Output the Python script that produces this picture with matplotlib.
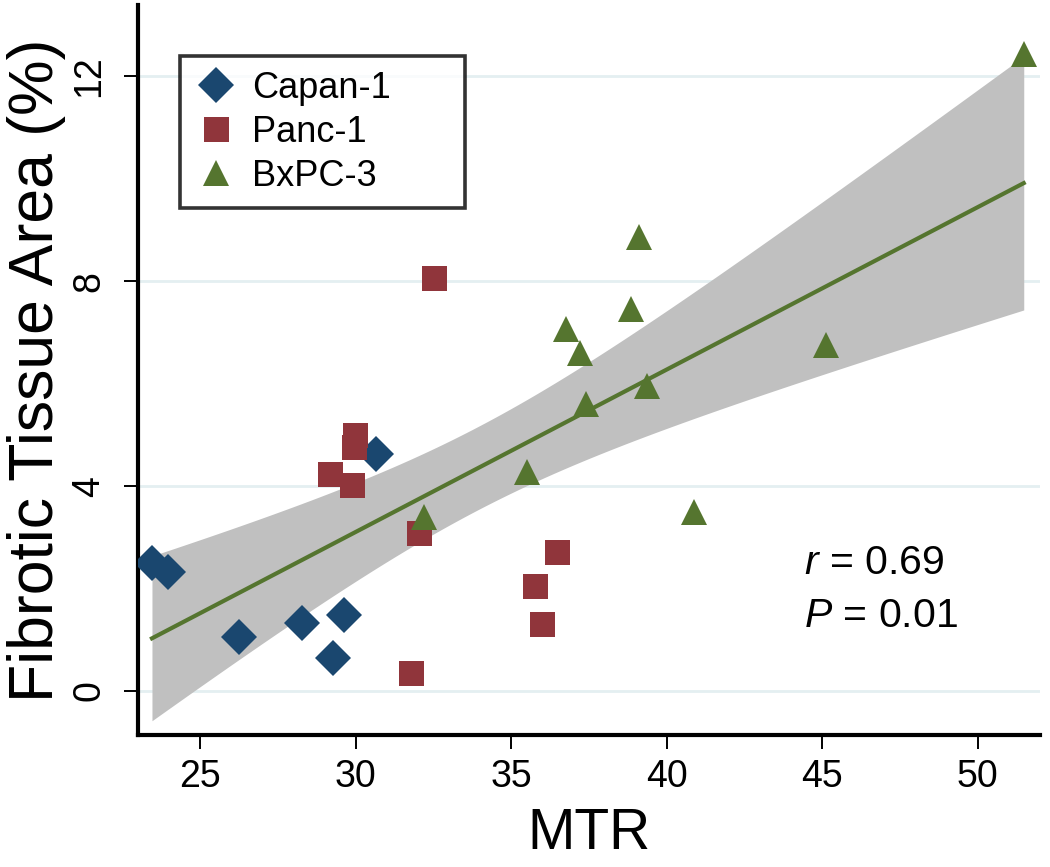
import numpy as np
import matplotlib.pyplot as plt

plt.rcParams['font.family'] = ['Liberation Sans', 'DejaVu Sans']
plt.rcParams['mathtext.fontset'] = 'custom'
plt.rcParams['mathtext.rm'] = 'Liberation Sans'
plt.rcParams['mathtext.it'] = 'Liberation Sans:italic'

# values
capan_mtr = [23.45, 23.98, 26.26, 28.28, 29.62, 29.27, 30.66]
capan_area = [2.49, 2.33, 1.06, 1.32, 1.48, 0.64, 4.62]

panc_mtr = [29.99, 29.95, 29.19, 29.88, 32.02, 31.78, 36.46, 35.77, 35.98, 32.53]
panc_area = [5.00, 4.77, 4.23, 4.02, 3.09, 0.36, 2.71, 2.05, 1.31, 8.06]

bxpc_mtr = [39.11, 38.86, 36.75, 37.20, 45.11, 39.38, 37.39, 35.52, 40.89, 32.21, 51.48]
bxpc_area = [8.87, 7.45, 7.07, 6.60, 6.75, 5.96, 5.61, 4.28, 3.49, 3.40, 12.44]

x_ticks = [25, 30, 35, 40, 45, 50]
y_ticks = [0, 4, 8, 12]

blue = '#1a476f'
red = '#90353b'
green = '#55752f'

# linear fit with 95% confidence band of the mean
x_all = np.array(capan_mtr + panc_mtr + bxpc_mtr)
y_all = np.array(capan_area + panc_area + bxpc_area)
n = len(x_all)
slope, intercept = np.polyfit(x_all, y_all, 1)
resid = y_all - (slope * x_all + intercept)
s = np.sqrt(np.sum(resid ** 2) / (n - 2))
sxx = np.sum((x_all - x_all.mean()) ** 2)
t_crit = 2.056  # t(0.975, df=26)
xs = np.linspace(x_all.min(), x_all.max(), 200)
ys = slope * xs + intercept
half = t_crit * s * np.sqrt(1 / n + (xs - x_all.mean()) ** 2 / sxx)

fig = plt.figure(figsize=(10.5, 8.67), dpi=100)
ax = fig.add_axes([0.1314, 0.1522, 0.859, 0.842])

ax.fill_between(xs, ys - half, ys + half, color='#c0c0c0', linewidth=0, zorder=1)
ax.plot(xs, ys, color=green, linewidth=3, zorder=2)

ax.plot(capan_mtr, capan_area, 'D', color=blue, markersize=18, markeredgewidth=0,
        linestyle='none', label='Capan-1', zorder=3)
ax.plot(panc_mtr, panc_area, 's', color=red, markersize=18, markeredgewidth=0,
        linestyle='none', label='Panc-1', zorder=3)
ax.plot(bxpc_mtr, bxpc_area, '^', color=green, markersize=19, markeredgewidth=0,
        linestyle='none', label='BxPC-3', zorder=3)

ax.set_xlim(23.0, 52.0)
ax.set_ylim(-0.86, 13.39)
ax.set_xticks(x_ticks)
ax.set_yticks(y_ticks)

for yv in y_ticks:
    ax.axhline(yv, color='#e4eff1', linewidth=2, zorder=0)

for side in ['top', 'right']:
    ax.spines[side].set_visible(False)
for side in ['left', 'bottom']:
    ax.spines[side].set_linewidth(3)

ax.tick_params(direction='out', length=10, width=1.4, labelsize=27, color='black')
ax.tick_params(axis='x', pad=7)
ax.tick_params(axis='y', pad=12, labelrotation=90)
for lbl in ax.get_yticklabels():
    lbl.set_va('center')

ax.set_xlabel('MTR', fontsize=41, labelpad=9)
ax.set_ylabel('Fibrotic Tissue Area (%)', fontsize=45, labelpad=4)

leg = ax.legend(loc='upper left', bbox_to_anchor=(0.0466, 0.724, 0.316, 0.206),
                mode='expand', fontsize=26, frameon=True, fancybox=False,
                borderpad=0.4, labelspacing=0.25, handletextpad=0.4,
                handlelength=1.2, borderaxespad=0)
leg.get_frame().set_edgecolor('black')
leg.get_frame().set_linewidth(2.6)

ax.text(44.4, 2.29, r'$r$ = 0.69', fontsize=29.5, va='baseline')
ax.text(44.4, 1.25, r'$P$ = 0.01', fontsize=29.5, va='baseline')

fig.savefig('out.png', dpi=100)
